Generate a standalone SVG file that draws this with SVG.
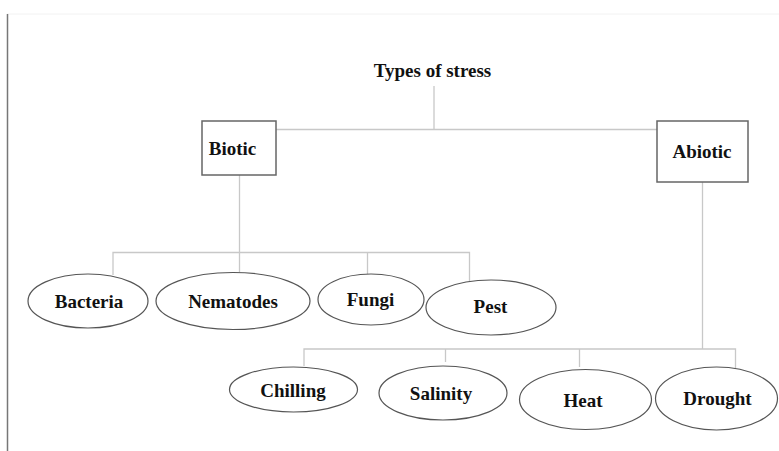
<svg xmlns="http://www.w3.org/2000/svg" width="779" height="451" viewBox="0 0 779 451">
<style>
text{font-family:"Liberation Serif","Times New Roman",serif;font-weight:bold;font-size:19px;fill:#111;text-anchor:middle}
.box{fill:#fff;stroke:#666;stroke-width:1.5}
.oval{fill:#fff;stroke:#555;stroke-width:1.2}
.c{fill:none;stroke:#c8c8c8;stroke-width:1.3}
</style>
<rect width="779" height="451" fill="#fff"/>
<line x1="7" y1="14" x2="779" y2="14" stroke="#f2f2f2" stroke-width="1"/>
<line x1="7.5" y1="14" x2="7.5" y2="451" stroke="#777" stroke-width="1.5"/>
<g id="connectors">
<path class="c" d="M434,86 V129.5 M276,129.5 H657"/>
<path class="c" d="M239.5,175 V272 M113,275 V252.5 H469.5 V290 M367.5,252.5 V274"/>
<path class="c" d="M702.5,182 V349 M304,366 V349 H735.5 V368 M445.5,349 V362 M579.5,349 V367"/>
</g>
<g id="root"><text x="432.5" y="77">Types of stress</text></g>
<g id="biotic"><rect class="box" x="202" y="121" width="74" height="54"/><text x="232.5" y="155">Biotic</text></g>
<g id="abiotic"><rect class="box" x="657" y="121" width="91" height="61"/><text x="702" y="158">Abiotic</text></g>
<g id="bacteria"><ellipse class="oval" cx="88" cy="301" rx="60" ry="27"/><text x="89" y="308">Bacteria</text></g>
<g id="nematodes"><ellipse class="oval" cx="233" cy="301" rx="77" ry="28.5"/><text x="233" y="308">Nematodes</text></g>
<g id="fungi"><ellipse class="oval" cx="371" cy="299.5" rx="53" ry="25.5"/><text x="370.5" y="306">Fungi</text></g>
<g id="pest"><ellipse class="oval" cx="491" cy="307.5" rx="65" ry="27.5"/><text x="490.5" y="313">Pest</text></g>
<g id="chilling"><ellipse class="oval" cx="293.5" cy="389.5" rx="64" ry="22.5"/><text x="293" y="397">Chilling</text></g>
<g id="salinity"><ellipse class="oval" cx="443" cy="393" rx="64" ry="27"/><text x="441" y="400">Salinity</text></g>
<g id="heat"><ellipse class="oval" cx="585.5" cy="399.5" rx="66" ry="30"/><text x="583" y="406.5">Heat</text></g>
<g id="drought"><ellipse class="oval" cx="716.5" cy="398.5" rx="61" ry="31.5"/><text x="717.5" y="405">Drought</text></g>
</svg>
